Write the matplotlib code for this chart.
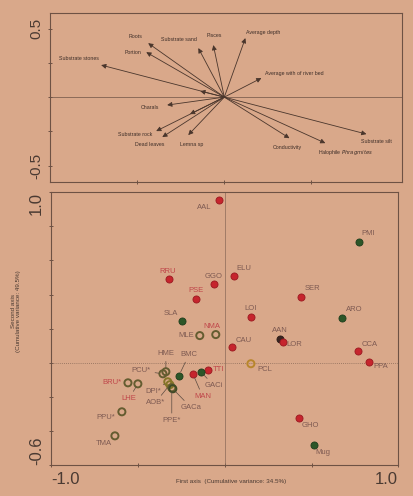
import matplotlib
matplotlib.use('Agg')
import matplotlib.pyplot as plt

plt.rcParams['font.family'] = ['Liberation Sans', 'DejaVu Sans']

# --- top panel: environmental variables (biplot arrows) ---
var_names = ['Roots', 'Portion', 'Substrate stones', '', 'Substrate sand', 'Pisces',
             'Average depth', 'Average with of river bed', 'Charals', '',
             'Substrate rock', 'Dead leaves', 'Lemna sp', 'Conductivity',
             r'Halophile $\it{Phragmites}$', 'Substrate silt']
var_x = [-0.437, -0.448, -0.707, -0.138, -0.149, -0.063, 0.121, 0.213, -0.328, -0.197,
         -0.391, -0.356, -0.207, 0.374, 0.580, 0.816]
var_y = [0.394, 0.328, 0.234, 0.044, 0.358, 0.380, 0.431, 0.139, -0.058, -0.124,
         -0.248, -0.292, -0.277, -0.300, -0.336, -0.270]

# --- bottom panel: sites ---
sites = ['AAL', 'PMI', 'ELU', 'GGO', 'RRU', 'PSE', 'SER', 'LOI', 'ARO', 'SLA',
         'MLE', 'NMA', 'CAU', 'AAN', 'LOR', 'CCA', 'PPA', 'PCL', 'TTI', 'GACi',
         'MAN', 'BMC', 'HME', 'PCU*', 'BRU*', 'LHE', 'DPI*', 'AOB*', 'PPE*', 'GACa',
         'PPU*', 'TMA', 'GHO', 'Mug']
site_x = [-0.034, 0.770, 0.052, -0.063, -0.322, -0.167, 0.437, 0.150, 0.672, -0.247,
          -0.144, -0.052, 0.040, 0.316, 0.333, 0.764, 0.828, 0.150, -0.098, -0.138,
          -0.184, -0.264, -0.339, -0.356, -0.557, -0.500, -0.328, -0.316, -0.305, -0.299,
          -0.592, -0.632, 0.425, 0.511]
site_y = [0.953, 0.706, 0.506, 0.459, 0.488, 0.376, 0.388, 0.270, 0.265, 0.247,
          0.159, 0.165, 0.094, 0.141, 0.124, 0.071, 0.006, -0.006, -0.041, -0.053,
          -0.065, -0.076, -0.053, -0.065, -0.118, -0.124, -0.112, -0.129, -0.147, -0.153,
          -0.288, -0.429, -0.324, -0.482]
site_group = ['red', 'green', 'red', 'red', 'red', 'red', 'red', 'red', 'green', 'green',
              'open', 'open', 'red', 'dark', 'red', 'red', 'red', 'orange', 'red', 'green',
              'red', 'green', 'open', 'open', 'open', 'open', 'yellow', 'yellow', 'open', 'opengreen',
              'open', 'open', 'red', 'green']

bg = '#d9a88a'
ink = '#6e5244'

# label offsets in pixels (dx, dy, ha, leader line)
var_off = [(-13, 7, 'center'), (-5, 0, 'right'), (-22, 7, 'center'), (0, 0, 'center'),
           (-19, 9, 'center'), (1, 10, 'center'), (1, 6, 'left'), (4, 5, 'left'),
           (-8, -2, 'right'), (0, 0, 'center'), (-4, -3, 'right'), (-13, -7, 'center'),
           (3, -9, 'center'), (-2, -9, 'center'), (20, -9, 'center'), (10, -7, 'center')]
site_off = {'AAL': (-7, -7, 'right', False), 'PMI': (3, 9, 'left', False),
            'ELU': (3, 8, 'left', False), 'GGO': (0, 8, 'center', False),
            'RRU': (-1, 8, 'center', False), 'PSE': (0, 8, 'center', False),
            'SER': (4, 8, 'left', False), 'LOI': (0, 8, 'center', False),
            'ARO': (4, 8, 'left', False), 'SLA': (-4, 7, 'right', False),
            'MLE': (-6, 0, 'right', False), 'NMA': (-4, 8, 'center', False),
            'CAU': (4, 6, 'left', False), 'AAN': (0, 8, 'center', False),
            'LOR': (4, -3, 'left', False), 'CCA': (4, 6, 'left', False),
            'PPA': (5, -5, 'left', False), 'PCL': (6, -6, 'left', False),
            'TTI': (5, 0, 'left', False), 'GACi': (4, -14, 'left', True),
            'MAN': (10, -23, 'center', True), 'BMC': (10, 21, 'center', True),
            'HME': (0, 18, 'center', True), 'PCU*': (-12, 3, 'right', True),
            'BRU*': (-6, 0, 'right', False), 'LHE': (-9, -15, 'center', True),
            'DPI*': (-7, -10, 'right', True), 'AOB*': (-5, -18, 'right', True),
            'PPE*': (0, -33, 'center', True), 'GACa': (8, -19, 'left', True),
            'PPU*': (-7, -6, 'right', False), 'TMA': (-3, -8, 'right', False),
            'GHO': (3, -8, 'left', False), 'Mug': (2, -8, 'left', False)}
red_labels = ['RRU', 'NMA', 'BRU*', 'LHE', 'MAN', 'TTI', 'PSE']

styles = {'red': dict(facecolor='#c6252d', edgecolor='#9a1a20', linewidth=0.6),
          'green': dict(facecolor='#2c5628', edgecolor='#1f3d1c', linewidth=0.6),
          'dark': dict(facecolor='#3a2420', edgecolor='#2a1a16', linewidth=0.6),
          'open': dict(facecolor='none', edgecolor='#645c30', linewidth=1.4),
          'yellow': dict(facecolor='none', edgecolor='#857528', linewidth=1.4),
          'opengreen': dict(facecolor='none', edgecolor='#3f4a25', linewidth=1.4),
          'orange': dict(facecolor='none', edgecolor='#b8862c', linewidth=1.4)}

px = 72 / 100.0

fig = plt.figure(figsize=(4.14, 4.96), dpi=100, facecolor=bg)
ax1 = fig.add_axes([0.121, 0.633, 0.850, 0.341], facecolor=bg)
ax2 = fig.add_axes([0.123, 0.0625, 0.838, 0.550], facecolor=bg)

for ax in (ax1, ax2):
    for s in ax.spines.values():
        s.set_color(ink)
        s.set_linewidth(0.8)
    ax.tick_params(colors=ink, labelcolor='#4a3a32', width=0.7, length=3, direction='inout')

# top panel
ax1.set_xlim(-1.0, 1.02)
ax1.set_ylim(-0.62, 0.615)
ax1.axhline(0, color=ink, lw=0.5)
for name, x, y, off in zip(var_names, var_x, var_y, var_off):
    ax1.annotate('', xy=(x, y), xytext=(0, 0),
                 arrowprops=dict(arrowstyle='-|>', color='#4a362c', lw=0.6,
                                 mutation_scale=7, shrinkA=0, shrinkB=0))
    if name:
        ax1.annotate(name, xy=(x, y), xytext=(off[0] * px, off[1] * px),
                     textcoords='offset points', ha=off[2], va='center',
                     fontsize=3.8, color='#3e2e28')
ax1.set_xticks([-0.5, 0, 0.5])
ax1.set_xticklabels(['', '', ''])
ax1.set_yticks([-0.5, -0.25, 0, 0.25, 0.5])
ax1.set_yticklabels(['-0.5', '', '', '', '0.5'], rotation=90, va='center', fontsize=11)

# bottom panel
ax2.set_xlim(-1.0, 0.995)
ax2.set_ylim(-0.6, 1.0)
ax2.axhline(0, color='#8a6a58', lw=0.6, ls=(0, (1, 1.5)))
ax2.axvline(0, color='#8a6a58', lw=0.5)
for name, x, y, g in zip(sites, site_x, site_y, site_group):
    ax2.scatter([x], [y], s=26, zorder=3, **styles[g])
    dx, dy, ha, lead = site_off[name]
    col = '#c0464a' if name in red_labels else '#7e5a52'
    ap = dict(arrowstyle='-', color='#5a4a40', lw=0.5, shrinkA=1, shrinkB=3) if lead else None
    ax2.annotate(name, xy=(x, y), xytext=(dx * px, dy * px), textcoords='offset points',
                 ha=ha, va='center', fontsize=5.5, color=col, arrowprops=ap, zorder=4)

ax2.set_xticks([-1.0, -0.5, 0, 0.5, 0.995])
ax2.set_xticklabels(['-1.0', '', '', '', '1.0'], fontsize=12)
xl = ax2.get_xticklabels()
xl[0].set_ha('left')
xl[-1].set_ha('right')
ax2.set_yticks([-0.6, -0.4, -0.2, 0, 0.2, 0.4, 0.6, 0.8, 1.0])
ax2.set_yticklabels(['-0.6', '', '', '', '', '', '', '', '1.0'], rotation=90, fontsize=12)
yl = ax2.get_yticklabels()
yl[0].set_va('bottom')
yl[-1].set_va('top')

ax2.set_xlabel('First axis  (Cumulative variance: 34.5%)', fontsize=4.5, color='#4a3a32')
ax2.xaxis.set_label_coords(0.52, -0.062)
ax2.xaxis.label.set_va('center')
ax2.set_ylabel('Second axis\n(Cumulative variance: 49.5%)', fontsize=4.5, color='#4a3a32')
ax2.yaxis.set_label_coords(-0.085, 0.564)

fig.savefig('out.png', dpi=100, facecolor=bg)
